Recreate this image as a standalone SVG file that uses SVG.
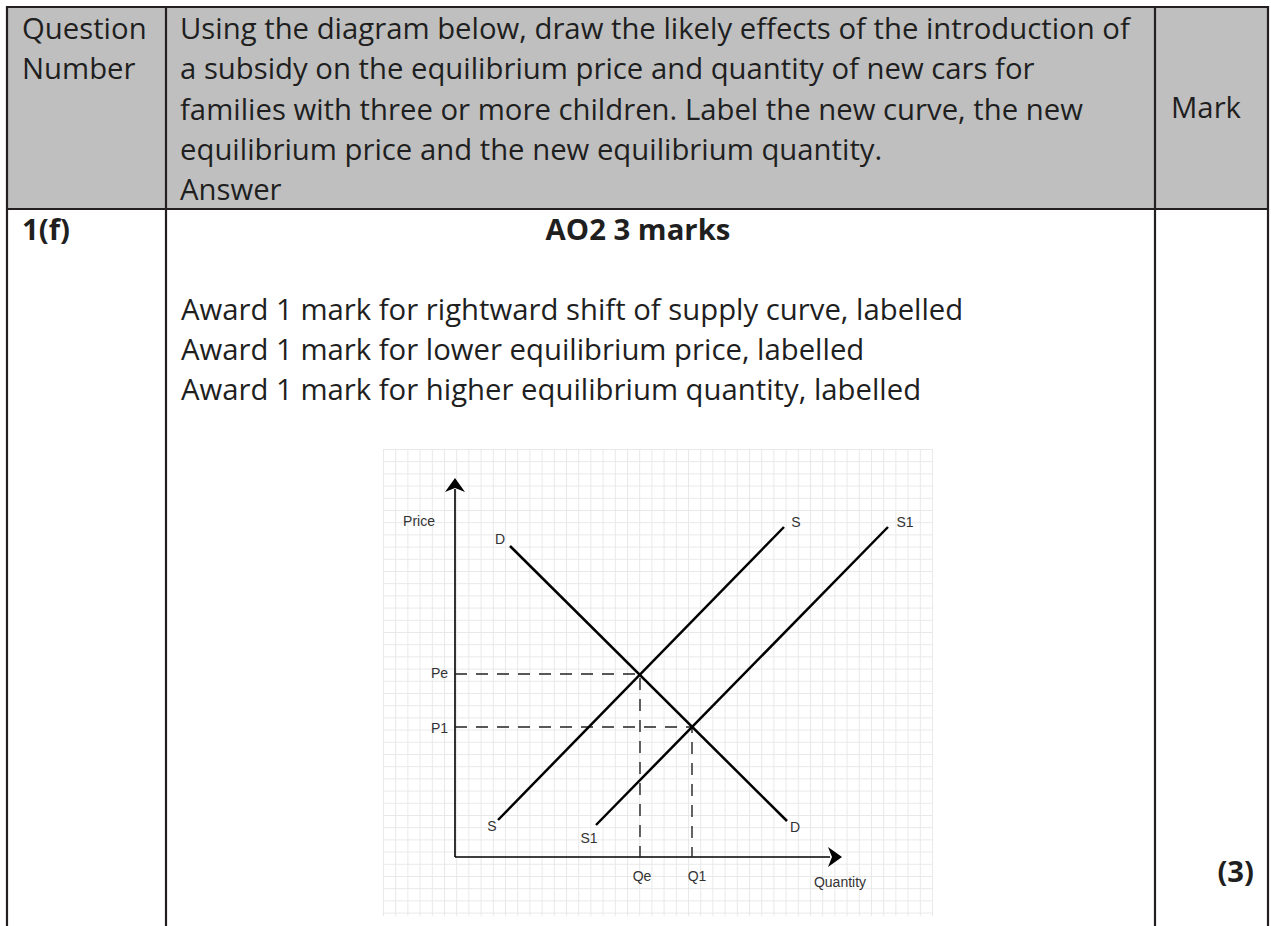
<svg xmlns="http://www.w3.org/2000/svg" width="1271" height="926" viewBox="0 0 1271 926">
<defs>
<style>
.t{font-family:"Open Sans","Noto Sans","DejaVu Sans",sans-serif;font-size:29.3px;fill:#1f1f1f}
.b{font-weight:bold}
.rule{stroke:#231f20;stroke-width:2.2;fill:none}
.lab{font-family:"Liberation Sans",Arial,sans-serif;font-size:14px;fill:#333}
.curve{stroke:#000;stroke-width:2.5;fill:none}
.dash{stroke:#222;stroke-width:1.4;stroke-dasharray:12 9;fill:none}
.axis{stroke:#000;stroke-width:1.6;fill:none}
</style>
<pattern id="grid" x="383" y="449" width="12.2" height="12.2" patternUnits="userSpaceOnUse">
<path d="M0,0.5 H12.2 M0.5,0 V12.2" stroke="#e8e8e8" stroke-width="1" fill="none"/>
</pattern>
</defs>
<rect width="1271" height="926" fill="#fff"/>
<g id="table">
<rect x="7" y="7" width="1261" height="202" fill="#bfbfbf"/>
<path class="rule" d="M7,926 V7 H1268 V926 M166,7 V926 M1155,7 V926 M7,209 H1268"/>
</g>
<g id="header">
<text class="t" x="22" y="39">Question</text>
<text class="t" x="22" y="79">Number</text>
<text class="t" x="180" y="39">Using the diagram below, draw the likely effects of the introduction of</text>
<text class="t" x="180" y="79">a subsidy on the equilibrium price and quantity of new cars for</text>
<text class="t" x="180" y="120">families with three or more children. Label the new curve, the new</text>
<text class="t" x="180" y="160">equilibrium price and the new equilibrium quantity.</text>
<text class="t" x="180" y="200">Answer</text>
<text class="t" x="1171" y="118">Mark</text>
</g>
<g id="body">
<text class="t b" x="22" y="240">1(f)</text>
<text class="t b" x="638" y="240" text-anchor="middle">AO2 3 marks</text>
<text class="t" x="181" y="320">Award 1 mark for rightward shift of supply curve, labelled</text>
<text class="t" x="181" y="360">Award 1 mark for lower equilibrium price, labelled</text>
<text class="t" x="181" y="400">Award 1 mark for higher equilibrium quantity, labelled</text>
<text class="t b" x="1254" y="882" text-anchor="end">(3)</text>
</g>
<g id="chart">
<rect x="383" y="449" width="550" height="467" fill="url(#grid)"/>
<g id="axes">
<path class="axis" d="M455,857 V489 M455,857 H830"/>
<path d="M455,478 L465,492 L455,488 L445,492 Z" fill="#000"/>
<path d="M842,857 L828,867 L832,857 L828,847 Z" fill="#000"/>
</g>
<g id="connectors">
<path class="dash" d="M455,674 H640 V857"/>
<path class="dash" d="M455,727 H692 V857"/>
</g>
<g id="curve-D"><path class="curve" d="M510,546 L787,821"/></g>
<g id="curve-S"><path class="curve" d="M498,820 L784,527"/></g>
<g id="curve-S1"><path class="curve" d="M596,825 L888,527"/></g>
<g id="labels">
<text class="lab" x="419" y="526" text-anchor="middle">Price</text>
<text class="lab" x="500" y="544" text-anchor="middle">D</text>
<text class="lab" x="796" y="527" text-anchor="middle">S</text>
<text class="lab" x="905" y="527" text-anchor="middle">S1</text>
<text class="lab" x="448" y="678" text-anchor="end">Pe</text>
<text class="lab" x="448" y="733" text-anchor="end">P1</text>
<text class="lab" x="492" y="831" text-anchor="middle">S</text>
<text class="lab" x="589" y="843" text-anchor="middle">S1</text>
<text class="lab" x="795" y="832" text-anchor="middle">D</text>
<text class="lab" x="642" y="881" text-anchor="middle">Qe</text>
<text class="lab" x="697" y="881" text-anchor="middle">Q1</text>
<text class="lab" x="840" y="887" text-anchor="middle">Quantity</text>
</g>
</g>
</svg>
